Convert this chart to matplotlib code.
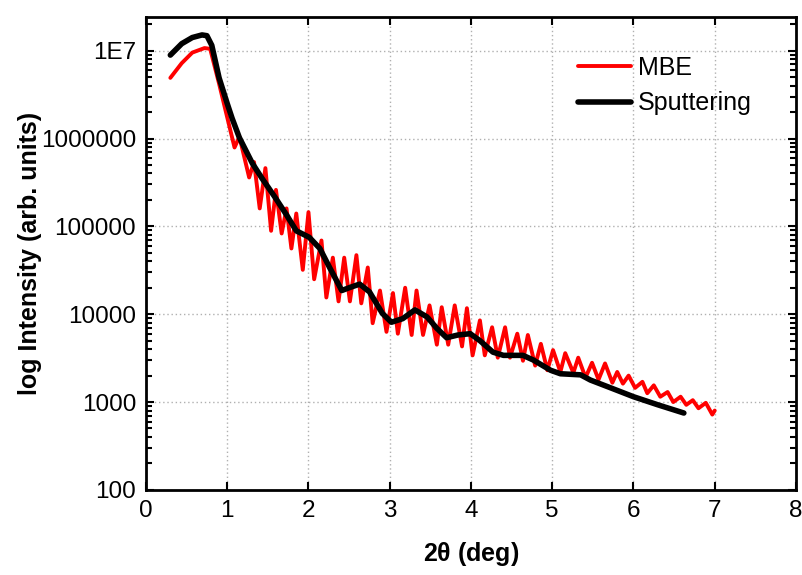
import matplotlib
matplotlib.use("Agg")
import matplotlib.pyplot as plt
from matplotlib.ticker import FixedLocator, FixedFormatter, LogLocator, NullFormatter

plt.rcParams['font.family'] = ['Liberation Sans', 'DejaVu Sans']

# MBE: peaks and dips
mbe_x = [0.30, 0.44, 0.57, 0.72, 0.79, 0.90, 1.00, 1.09, 1.15, 1.27, 1.33, 1.40, 1.47,
         1.54, 1.60, 1.67, 1.73, 1.79, 1.85, 1.93, 2.00, 2.07, 2.16, 2.22, 2.30, 2.37,
         2.44, 2.51, 2.59, 2.65, 2.73, 2.79, 2.88, 2.96, 3.04, 3.10, 3.19, 3.27, 3.33,
         3.41, 3.49, 3.58, 3.64, 3.72, 3.80, 3.89, 3.95, 4.02, 4.11, 4.17, 4.26, 4.33,
         4.42, 4.48, 4.57, 4.64, 4.70, 4.79, 4.86, 4.94, 5.01, 5.10, 5.16, 5.26, 5.32,
         5.41, 5.49, 5.57, 5.65, 5.74, 5.80, 5.87, 5.94, 6.02, 6.11, 6.17, 6.25, 6.33,
         6.42, 6.49, 6.58, 6.65, 6.73, 6.80, 6.89, 6.97, 7.00]
mbe_y = [4.9e6, 7.2e6, 9.5e6, 1.07e7, 1.05e7, 4.2e6, 1.74e6, 7.9e5, 1.05e6, 3.6e5, 5.4e5, 1.6e5, 4.6e5,
         8.9e4, 2.6e5, 8.3e4, 1.6e5, 5.6e4, 1.4e5, 3.2e4, 1.45e5, 2.5e4, 6.9e4, 1.55e4, 4.4e4, 1.4e4,
         4.4e4, 1.4e4, 4.7e4, 1.33e4, 3.4e4, 7.9e3, 1.86e4, 6.3e3, 1.74e4, 6.0e3, 2.0e4, 5.8e3, 1.86e4,
         5.8e3, 1.26e4, 4.5e3, 1.2e4, 4.5e3, 1.26e4, 4.3e3, 1.17e4, 3.4e3, 8.5e3, 3.4e3, 7.1e3, 3.2e3,
         7.1e3, 3.2e3, 6.0e3, 2.95e3, 5.8e3, 2.6e3, 4.6e3, 2.3e3, 3.9e3, 2.2e3, 3.6e3, 2.15e3, 3.2e3,
         1.9e3, 2.8e3, 1.8e3, 2.75e3, 1.66e3, 2.2e3, 1.62e3, 2.0e3, 1.45e3, 1.7e3, 1.26e3, 1.55e3, 1.15e3,
         1.3e3, 1.0e3, 1.15e3, 930, 1.05e3, 850, 980, 720, 800]

# Sputtering
sput_x = [0.30, 0.44, 0.57, 0.69, 0.75, 0.81, 0.90, 1.00, 1.06, 1.15, 1.31, 1.43, 1.58,
          1.73, 1.85, 2.01, 2.14, 2.26, 2.41, 2.50, 2.63, 2.75, 2.91, 3.02, 3.16, 3.31,
          3.46, 3.58, 3.70, 3.84, 3.99, 4.11, 4.27, 4.40, 4.64, 4.77, 4.98, 5.10, 5.35,
          5.47, 5.72, 6.00, 6.30, 6.62]
sput_y = [8.9e6, 1.2e7, 1.41e7, 1.51e7, 1.48e7, 1.15e7, 4.9e6, 2.5e6, 1.7e6, 1.02e6, 5.2e5, 3.5e5, 2.2e5,
          1.35e5, 8.9e4, 7.5e4, 5.6e4, 3.4e4, 1.86e4, 2.0e4, 2.2e4, 1.8e4, 1.02e4, 8.1e3, 8.9e3, 1.12e4,
          9.3e3, 6.9e3, 5.4e3, 5.8e3, 6.0e3, 5.0e3, 3.7e3, 3.4e3, 3.4e3, 3.0e3, 2.3e3, 2.1e3, 2.04e3,
          1.78e3, 1.45e3, 1.15e3, 930, 750]

y_ticks = [100, 1000, 10000, 100000, 1000000, 10000000]
y_labels = ["100", "1000", "10000", "100000", "1000000", "1E7"]

fig = plt.figure(figsize=(8.02, 5.75), dpi=100)
ax = fig.add_axes([0.182, 0.148, 0.8105, 0.822])

ax.plot(mbe_x, mbe_y, color='red', lw=2.8, solid_joinstyle='round', solid_capstyle='round', label='MBE')
ax.plot(sput_x, sput_y, color='black', lw=4.0, solid_joinstyle='round', solid_capstyle='round', label='Sputtering')

ax.set_yscale('log')
ax.set_xlim(0, 8)
ax.set_ylim(100, 2.4e7)
ax.xaxis.set_major_locator(FixedLocator(range(9)))
ax.yaxis.set_major_locator(FixedLocator(y_ticks))
ax.yaxis.set_major_formatter(FixedFormatter(y_labels))
ax.yaxis.set_minor_locator(LogLocator(base=10, subs=range(2, 10)))
ax.yaxis.set_minor_formatter(NullFormatter())

ax.grid(True, which='major', color='#b0b0b0', linestyle=(0, (1, 2)), lw=1)
ax.tick_params(which='both', direction='in', top=True, right=True, width=1.5, labelsize=17.5, pad=7)
ax.tick_params(which='major', length=6)
ax.tick_params(which='minor', length=4)
for s in ax.spines.values():
    s.set_linewidth(2)

ax.set_xlabel(r'2$\mathregular{\theta}$ (deg)', fontsize=18, fontweight='bold', labelpad=13)
ax.set_ylabel('log Intensity (arb. units)', fontsize=18, fontweight='bold', labelpad=-1)

ax.legend(loc='upper left', bbox_to_anchor=(0.665, 0.918), frameon=False, fontsize=18,
          handlelength=2.1, handletextpad=0.3, labelspacing=0.45, borderpad=0, borderaxespad=0)

fig.savefig('out.png', dpi=100)
